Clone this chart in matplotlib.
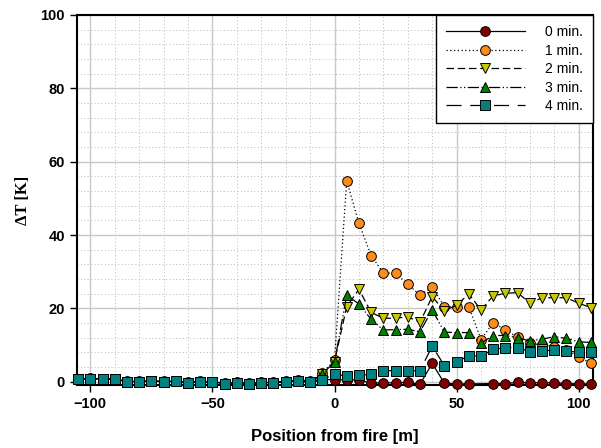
import numpy as np
import matplotlib
matplotlib.use("Agg")
import matplotlib.pyplot as plt
from matplotlib.ticker import MultipleLocator

# Position along the tunnel relative to the fire [m]
position = [-105, -100, -95, -90, -85, -80, -75, -70, -65, -60, -55, -50, -45, -40,
            -35, -30, -25, -20, -15, -10, -5, 0, 5, 10, 15, 20, 25, 30, 35, 40,
            45, 50, 55, 60, 65, 70, 75, 80, 85, 90, 95, 100, 105]

# Temperature rise [K] at each position, per time after ignition
dT_0min = [0.8, 0.9, 0.8, 0.8, 0.1, 0.1, 0.2, 0.1, 0.1, -0.2, 0.1, 0.0, -0.4, -0.2,
           -0.4, -0.2, -0.2, 0.1, 0.4, 0.3, 0.5, 0.6, 0.5, 0.5, -0.4, -0.3, -0.3, -0.2, -0.7, 5.0,
           -0.4, -0.6, -0.6, np.nan, -0.5, -0.5, -0.2, -0.3, -0.3, -0.3, -0.5, -0.6, -0.6]
dT_1min = [0.7, 0.8, 0.7, 0.7, 0.0, 0.0, 0.2, 0.0, 0.1, -0.3, 0.0, 0.0, -0.5, -0.3,
           -0.5, -0.3, -0.3, 0.0, 0.3, -0.2, 2.3, 5.9, 54.8, 43.2, 34.4, 29.6, 29.6, 26.6, 23.6, 25.8,
           20.5, 20.5, 20.5, 11.5, 16.1, 14.1, 12.1, 10.5, 10.0, 9.5, 8.6, 6.8, 5.0]
dT_2min = [0.7, 0.8, 0.7, 0.7, 0.0, 0.0, 0.2, 0.0, 0.1, -0.3, 0.0, 0.0, -0.5, -0.3,
           -0.5, -0.3, -0.3, 0.0, 0.3, -0.2, 2.2, 5.5, 20.5, 25.2, 18.9, 17.3, 17.3, 17.7, 16.2, 23.2,
           19.3, 20.9, 23.9, 19.6, 23.4, 24.1, 24.3, 21.4, 22.9, 22.9, 22.9, 21.4, 20.2]
dT_3min = [0.7, 0.8, 0.7, 0.7, 0.0, 0.0, 0.2, 0.0, 0.1, -0.3, 0.0, 0.0, -0.5, -0.3,
           -0.5, -0.3, -0.3, 0.0, 0.3, -0.2, 2.2, 5.3, 23.6, 21.2, 17.0, 14.1, 14.2, 14.3, 13.6, 19.6,
           13.5, 13.4, 13.4, 10.5, 12.6, 12.6, 12.0, 11.1, 11.6, 12.3, 11.8, 10.9, 10.7]
dT_4min = [0.7, 0.8, 0.7, 0.7, 0.0, 0.0, 0.2, 0.0, 0.1, -0.3, 0.0, 0.0, -0.5, -0.3,
           -0.5, -0.3, -0.3, 0.0, 0.3, -0.2, 0.5, 2.1, 1.5, 1.8, 2.0, 3.0, 3.0, 3.0, 3.0, 9.7,
           4.4, 5.5, 7.0, 7.0, 8.8, 9.3, 9.3, 8.2, 8.4, 8.6, 8.4, 8.0, 8.0]

labels = ["0 min.", "1 min.", "2 min.", "3 min.", "4 min."]

series = [dT_0min, dT_1min, dT_2min, dT_3min, dT_4min]
markers = ["o", "o", "v", "^", "s"]
face_colors = ["#800000", "#ff8c1a", "#c8c800", "#008000", "#008080"]
line_styles = ["-", (0, (1, 2)), (0, (6, 3)), (0, (9, 2, 1, 2, 1, 2)), (0, (12, 7))]

plt.rcParams["font.family"] = ["Liberation Sans", "DejaVu Sans"]

fig = plt.figure(figsize=(6.01, 4.48), dpi=100)
ax = fig.add_axes([0.128, 0.1406, 0.858, 0.826])

for vals, mk, fc, ls, lab in zip(series, markers, face_colors, line_styles, labels):
    x = np.array(position, dtype=float)
    y = np.array(vals, dtype=float)
    ok = ~np.isnan(y)
    ax.plot(x[ok], y[ok], linestyle=ls, color="black", linewidth=0.9,
            marker=mk, markersize=7, markerfacecolor=fc, markeredgecolor="black",
            markeredgewidth=0.7, label=lab, clip_on=False, zorder=3)

ax.set_xlim(-105.5, 105.7)
ax.set_ylim(-0.9, 100)

ax.xaxis.set_major_locator(MultipleLocator(50))
ax.xaxis.set_minor_locator(MultipleLocator(10))
ax.yaxis.set_major_locator(MultipleLocator(20))
ax.yaxis.set_minor_locator(MultipleLocator(4))

ax.grid(which="major", color="#c8c8c8", linestyle="-", linewidth=1.0)
ax.grid(which="minor", color="#b8b8b8", linestyle=(0, (1, 2.5)), linewidth=0.7)
ax.set_axisbelow(True)

ax.tick_params(which="major", direction="out", length=5, width=1, labelsize=10.5)
ax.tick_params(which="minor", length=0)
for lbl in ax.get_xticklabels() + ax.get_yticklabels():
    lbl.set_fontweight("bold")

for sp in ax.spines.values():
    sp.set_linewidth(1.5)
    sp.set_color("black")

ax.set_xlabel("Position from fire [m]", fontsize=12, fontweight="bold", labelpad=13)
ax.set_ylabel("ΔT [K]", fontsize=12, fontweight="bold",
              family=["Liberation Serif", "DejaVu Serif"], labelpad=7)

leg = ax.legend(loc="upper right", fontsize=10, frameon=True, fancybox=False,
                edgecolor="black", handlelength=5.7, handletextpad=1.42,
                borderaxespad=0, labelspacing=0.33, borderpad=0.72)
leg.get_frame().set_linewidth(1.0)
leg.get_frame().set_alpha(1)
leg.set_zorder(5)

fig.savefig("out.png", dpi=100)
